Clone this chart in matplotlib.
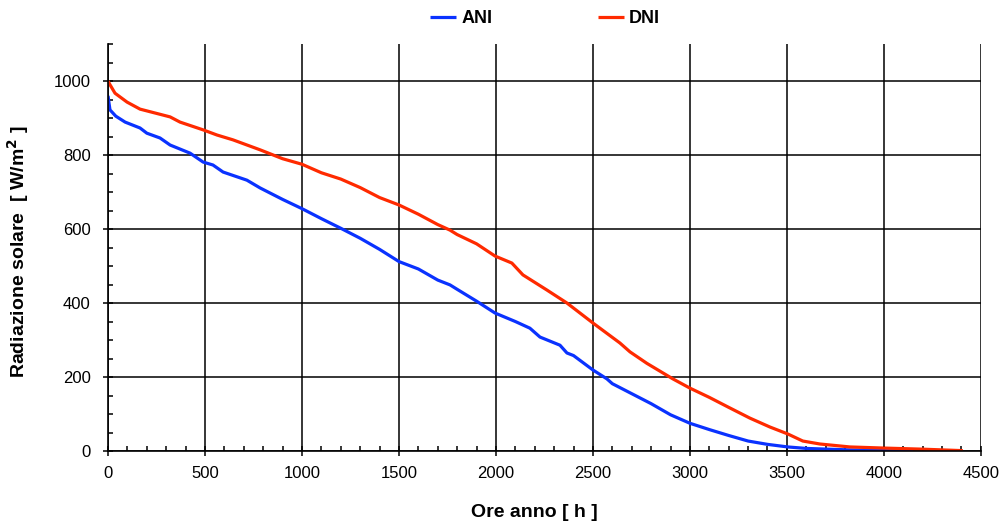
import matplotlib
matplotlib.use("Agg")
import matplotlib.pyplot as plt
from matplotlib.ticker import MultipleLocator

plt.rcParams['font.family'] = ['Liberation Sans', 'DejaVu Sans']

ani_hours = [0, 5, 10, 40, 88, 165, 200, 268, 320, 423, 490, 541, 593, 716, 784, 900,
             1000, 1100, 1200, 1300, 1400, 1500, 1600, 1700, 1763, 1800, 1900, 1995,
             2100, 2175, 2227, 2330, 2366, 2400, 2500, 2572, 2600, 2700, 2800, 2900,
             3000, 3100, 3200, 3300, 3400, 3505, 3600, 3825, 4000, 4150]
ani_values = [960, 940, 922, 905, 889, 873, 859, 846, 827, 805, 781, 773, 754, 732, 711, 680,
              655, 628, 602, 575, 545, 512, 492, 462, 449, 437, 405, 373,
              350, 332, 308, 286, 265, 258, 219, 195, 182, 155, 128, 98,
              75, 58, 42, 27, 18, 11, 7, 3, 1, 0]

dni_hours = [0, 10, 36, 98, 165, 320, 371, 490, 562, 644, 784, 900,
             1000, 1100, 1200, 1300, 1400, 1500, 1600, 1700, 1763, 1800, 1900, 1995,
             2082, 2139, 2263, 2366, 2500, 2639, 2691, 2778, 2912, 3000, 3100, 3200,
             3309, 3412, 3505, 3582, 3670, 3825, 4000, 4200, 4407]
dni_values = [1000, 990, 967, 943, 924, 903, 889, 868, 854, 841, 814, 790,
              775, 752, 735, 712, 685, 665, 640, 612, 597, 585, 560, 527,
              508, 476, 435, 400, 346, 292, 268, 237, 195, 170, 145, 118,
              89, 65, 46, 27, 19, 11, 8, 5, 1]

fig = plt.figure(figsize=(10.06, 5.29), dpi=100)
ax = fig.add_axes([0.1074, 0.1474, 0.975 - 0.1074, 0.9168 - 0.1474])

ax.plot(ani_hours, ani_values, color='#0A32FF', lw=2.3, label='ANI', solid_capstyle='butt')
ax.plot(dni_hours, dni_values, color='#FF2A00', lw=2.3, label='DNI', solid_capstyle='butt')

ax.set_xlim(0, 4500)
ax.set_ylim(0, 1100)
ax.xaxis.set_major_locator(MultipleLocator(500))
ax.xaxis.set_minor_locator(MultipleLocator(100))
ax.yaxis.set_major_locator(MultipleLocator(200))
ax.yaxis.set_minor_locator(MultipleLocator(50))
ax.grid(True, which='major', color='black', lw=1.1)
ax.set_axisbelow(True)

for s in ['top', 'right']:
    ax.spines[s].set_visible(False)
for s in ['left', 'bottom']:
    ax.spines[s].set_linewidth(1.2)
    ax.spines[s].set_color('black')

ax.tick_params(which='major', direction='inout', length=7, width=1.1, labelsize=12)
ax.tick_params(axis='y', which='major', pad=9)
ax.tick_params(axis='x', which='major', pad=7)
ax.tick_params(which='minor', direction='in', length=3.5, width=1.1)

ax.set_xlabel('Ore anno [ h ]', fontsize=14, fontweight='bold')
ax.xaxis.set_label_coords(0.488, -0.13)
ax.set_ylabel('Radiazione solare  [ W/m$^\\mathbf{2}$ ]', fontsize=14, fontweight='bold')
ax.yaxis.set_label_coords(-0.088, 0.49)

leg = fig.legend(loc='upper center', bbox_to_anchor=(0.542, 1.012), ncol=2, frameon=False,
                 prop={'weight': 'bold', 'size': 13}, handlelength=1.45, columnspacing=5.8,
                 handletextpad=0.3)

fig.savefig('out.png', dpi=100)
